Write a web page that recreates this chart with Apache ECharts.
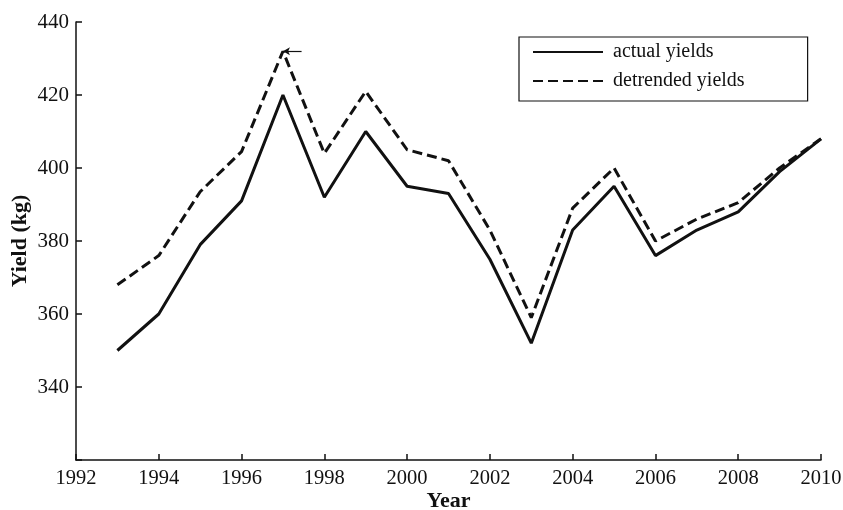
<!DOCTYPE html>
<html>
<head>
<meta charset="utf-8">
<script src="https://cdn.jsdelivr.net/npm/echarts@6/dist/echarts.min.js"></script>
<style>
	html, body { margin: 0; padding: 0; background: #fff; }
	#chart { width: 843px; height: 510px; }
</style>
</head>
<body>
<div id="chart"></div>
<script>
const years = [1993, 1994, 1995, 1996, 1997, 1998, 1999, 2000, 2001, 2002, 2003, 2004, 2005, 2006, 2007, 2008, 2009, 2010];
const actualYields = [350, 360, 379, 391, 420, 392, 410, 395, 393, 375, 352, 383, 395, 376, 383, 388, 399, 408];
const detrendedYields = [368, 376, 393.5, 404.5, 432, 404, 421, 405, 402, 383, 359, 389, 400, 380, 386, 390.5, 400, 408];
const seriesNames = ["actual yields", "detrended yields"];

const font = "'Liberation Serif', 'Times New Roman', serif";
const ink = "#111";

// arrow pointing at the detrended peak
const peak = detrendedYields.indexOf(Math.max(...detrendedYields));
const arrowTip = [years[peak], detrendedYields[peak]];
const arrowTail = [years[peak] + 0.45, detrendedYields[peak]];

const chart = echarts.init(document.getElementById("chart"), null, { renderer: "canvas" });

chart.setOption({
	animation: false,
	backgroundColor: "#fff",
	grid: { left: 76, right: 22, top: 22, bottom: 50, outerBoundsMode: "none", containLabel: false },
	legend: {
		orient: "vertical",
		left: 519,
		top: 37,
		padding: [5, 63, 10, 13],
		itemGap: 9,
		itemWidth: 70,
		itemHeight: 14,
		borderColor: ink,
		borderWidth: 1.2,
		itemStyle: { opacity: 0 },
		textStyle: { fontFamily: font, fontSize: 20, color: ink, padding: [0, 0, 0, 5] },
		data: seriesNames
	},
	xAxis: {
		type: "value",
		min: 1992,
		max: 2010,
		interval: 2,
		name: "Year",
		nameLocation: "middle",
		nameGap: 30,
		nameMoveOverlap: false,
		nameTextStyle: { fontFamily: font, fontSize: 22, fontWeight: "bold", color: ink },
		axisLine: { lineStyle: { color: ink, width: 1.5 } },
		axisTick: { inside: true, length: 6, lineStyle: { color: ink, width: 1.5 } },
		axisLabel: { margin: 8, fontFamily: font, fontSize: 20.5, color: ink, formatter: v => String(v) },
		splitLine: { show: false }
	},
	yAxis: {
		type: "value",
		min: 320,
		max: 440,
		interval: 20,
		name: "Yield (kg)",
		nameLocation: "middle",
		nameGap: 45,
		nameMoveOverlap: false,
		nameTextStyle: { fontFamily: font, fontSize: 22, fontWeight: "bold", color: ink },
		axisLine: { show: true, lineStyle: { color: ink, width: 1.5 } },
		axisTick: { show: true, inside: true, length: 6, lineStyle: { color: ink, width: 1.5 } },
		axisLabel: {
			margin: 7,
			fontFamily: font,
			fontSize: 21,
			color: ink,
			formatter: v => (v === 320 ? "" : String(v))
		},
		splitLine: { show: false }
	},
	series: [
		{
			name: seriesNames[0],
			type: "line",
			symbol: "none",
			data: years.map((y, i) => [y, actualYields[i]]),
			lineStyle: { color: ink, width: 3 },
			itemStyle: { color: ink }
		},
		{
			name: seriesNames[1],
			type: "line",
			symbol: "none",
			data: years.map((y, i) => [y, detrendedYields[i]]),
			lineStyle: { color: ink, width: 3, type: [10, 5] },
			itemStyle: { color: ink },
			markLine: {
				silent: true,
				symbol: ["none", "arrow"],
				symbolSize: [6, 7],
				label: { show: false },
				lineStyle: { color: ink, width: 1.2, type: "solid" },
				data: [[{ coord: arrowTail }, { coord: arrowTip }]]
			}
		}
	]
});
</script>
</body>
</html>
